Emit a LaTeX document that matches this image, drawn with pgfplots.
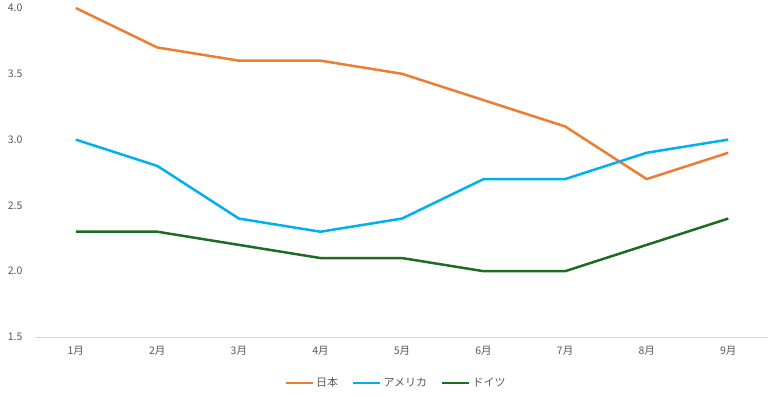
\documentclass[border=0pt]{standalone}
\usepackage{fontspec}
\setmainfont{Noto Sans CJK JP}
\usepackage{pgfplots}
\pgfplotsset{compat=1.18}
\definecolor{jp}{HTML}{ED7D31}
\definecolor{us}{HTML}{00B0F0}
\definecolor{de}{HTML}{1E6B24}
\definecolor{txt}{HTML}{595959}
\definecolor{ax}{HTML}{D9D9D9}
\begin{document}
\begin{tikzpicture}[x=1bp,y=1bp]
\useasboundingbox (0,0) rectangle (768,396);
\begin{axis}[
  at={(35bp,59bp)}, anchor=south west,
  scale only axis, width=734bp, height=329bp,
  xmin=-0.5, xmax=8.5, ymin=1.5, ymax=4.0,
  xtick={0,...,8},
  xticklabels={1月,2月,3月,4月,5月,6月,7月,8月,9月},
  ytick={1.5,2.0,2.5,3.0,3.5,4.0},
  yticklabel style={/pgf/number format/fixed,/pgf/number format/fixed zerofill,/pgf/number format/precision=1, xshift=-9bp},
  /pgf/number format/assume math mode=true,
  major tick length=0pt,
  axis lines=left,
  axis line style={-},
  y axis line style={draw=none},
  x axis line style={draw=ax, line width=0.8bp},
  tick label style={font=\fontsize{10.5bp}{12bp}\selectfont, text=txt},
  xticklabel style={yshift=-6bp},
  clip=false,
  legend style={at={(0.492,-0.14)}, anchor=center, draw=none, fill=none,
    legend columns=-1, font=\fontsize{11bp}{13bp}\selectfont, text=txt,
    /tikz/every even column/.append style={column sep=12bp},
    inner sep=0pt},
  legend image code/.code={\draw[#1, line width=2.5bp] (0,0) -- (27bp,0);},
]
\addplot[jp, line width=2.5bp] coordinates {(0,4.0)(1,3.7)(2,3.6)(3,3.6)(4,3.5)(5,3.3)(6,3.1)(7,2.7)(8,2.9)};
\addlegendentry{日本}
\addplot[us, line width=2.5bp] coordinates {(0,3.0)(1,2.8)(2,2.4)(3,2.3)(4,2.4)(5,2.7)(6,2.7)(7,2.9)(8,3.0)};
\addlegendentry{アメリカ}
\addplot[de, line width=2.5bp] coordinates {(0,2.3)(1,2.3)(2,2.2)(3,2.1)(4,2.1)(5,2.0)(6,2.0)(7,2.2)(8,2.4)};
\addlegendentry{ドイツ}
\end{axis}
\end{tikzpicture}
\end{document}
